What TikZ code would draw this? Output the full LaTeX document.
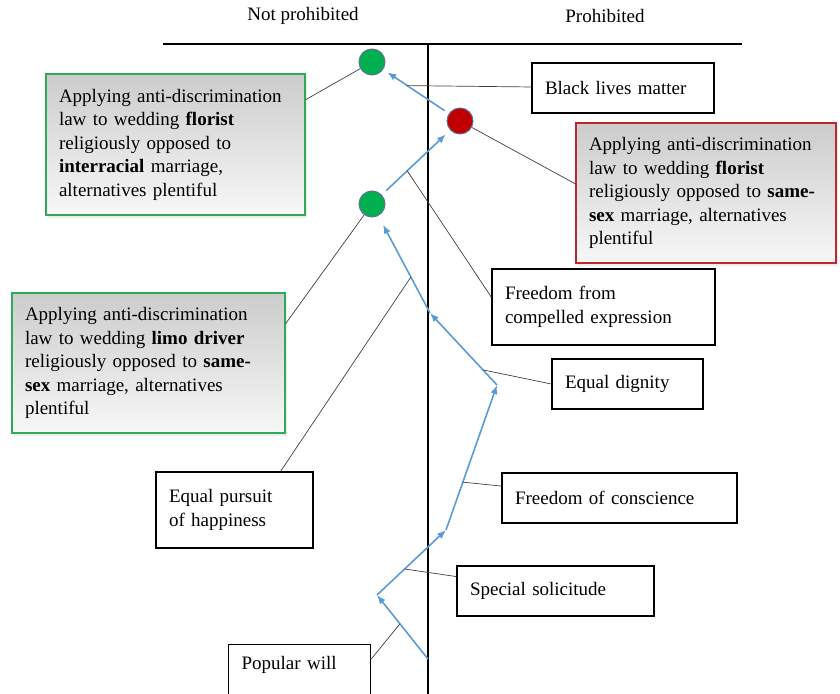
\documentclass[tikz,border=0pt]{standalone}
\usepackage{fontspec}
\setmainfont{Liberation Serif}
\usetikzlibrary{calc,shadows,arrows.meta}

\definecolor{flowblue}{RGB}{91,155,213}
\definecolor{okgreen}{RGB}{0,176,80}
\definecolor{nogred}{RGB}{192,0,0}
\definecolor{boxgreen}{RGB}{46,170,90}
\definecolor{boxred}{RGB}{190,40,45}
\definecolor{ringgrey}{RGB}{95,115,145}

\tikzset{
  flow/.style={-{Latex[length=9pt,width=7pt]}, flowblue, line width=1.6pt},
  link/.style={black!75, line width=.7pt},
  lbl/.style={draw, line width=1.3pt, rectangle, align=left, inner xsep=13pt,
    font=\fontsize{19}{23.5}\selectfont},
  case/.style={lbl, top color=gray!40, bottom color=gray!6,
    drop shadow={opacity=.15, shadow xshift=2pt, shadow yshift=-3pt}},
  dot/.style={circle, draw=ringgrey, line width=1pt, minimum size=26pt, inner sep=0pt}
}

\begin{document}
\begin{tikzpicture}[x=1pt,y=-1pt]
  \useasboundingbox (0,0) rectangle (840,693);
  \clip (0,0) rectangle (840,693);

  % headings and axes
  \node[font=\fontsize{19}{20}\selectfont] (hNot) at (303,16) {Not prohibited};
  \node[font=\fontsize{19}{20}\selectfont] (hPro) at (605,16) {Prohibited};
  \draw[line width=2.4pt] (163,44) -- (742,44);
  \draw[line width=2.4pt] (428,44) -- (428,700);

  % cases
  \node[case, draw=boxgreen, text width=233pt, minimum height=141pt] (g1) at (175.5,144.5)
    {Applying anti-discrimination\\ law to wedding \textbf{florist}\\ religiously opposed to\\
     \textbf{interracial} marriage,\\ alternatives plentiful};
  \node[case, draw=boxred, text width=234pt, minimum height=140pt] (r1) at (706,193)
    {Applying anti-discrimination\\ law to wedding \textbf{florist}\\ religiously opposed to \textbf{same-}\\
     \textbf{sex} marriage, alternatives\\ plentiful};
  \node[case, draw=boxgreen, text width=247pt, minimum height=140pt] (g2) at (148.5,363)
    {Applying anti-discrimination\\ law to wedding \textbf{limo driver}\\ religiously opposed to \textbf{same-}\\
     \textbf{sex} marriage, alternatives\\ plentiful};

  \node[dot, fill=okgreen] (gTop) at (372,62) {};
  \node[dot, fill=nogred] (rMid) at (460,121) {};
  \node[dot, fill=okgreen] (gMid) at (372,204) {};

  % values
  \node[lbl, text width=156pt, minimum height=50pt] (blm) at (623,88) {Black lives matter};
  \node[lbl, text width=197pt, minimum height=76pt] (ffce) at (603.5,307) {Freedom from\\ compelled expression};
  \node[lbl, text width=125pt, minimum height=50pt] (ed) at (627.5,384) {Equal dignity};
  \node[lbl, text width=131pt, minimum height=76pt] (epoh) at (234.5,510) {Equal pursuit\\ of happiness};
  \node[lbl, text width=209pt, minimum height=50pt] (foc) at (619.5,498) {Freedom of conscience};
  \node[lbl, text width=171pt, minimum height=50pt] (ss) at (555.5,591) {Special solicitude};
  \node[lbl, anchor=north west, text width=116pt, inner ysep=12pt, text depth=50pt] (pw) at (228,644) {Popular will};

  % path of the argument
  \coordinate (p0) at (428,659);
  \coordinate (p1) at (377,595);
  \coordinate (p2) at (446,530);
  \coordinate (p3) at (497,385);
  \coordinate (p4) at (430,313);

  \foreach \from/\to in {p0/p1, p1/p2, p2/p3, p3/p4}
    \draw[flow] (\from) -- (\to);
  \draw[flow, shorten >=10pt] (p4) -- (gMid);
  \draw[flow, shorten <=6pt, shorten >=6pt] (gMid) -- (rMid);
  \draw[flow, shorten <=5pt, shorten >=5pt] (rMid) -- (gTop);

  \coordinate (cPw) at ($(p0)!.55!(p1)$);
  \coordinate (cSs) at ($(p1)!.4!(p2)$);
  \coordinate (cFoc) at ($(p2)!.33!(p3)$);
  \coordinate (cEd) at ($(p3)!.21!(p4)$);
  \coordinate (cEp) at ($(p4)!.33!(gMid)$);
  \coordinate (cFfce) at ($(gMid)!.4!(rMid)$);
  \coordinate (cBlm) at ($(rMid)!.6!(gTop)$);
  \coordinate (pwTop) at ([yshift=-15pt]pw.north east);

  \foreach \from/\to in {g1.19/gTop, r1.176/rMid, g2.16/gMid, blm/cBlm, ffce.175/cFfce,
      ed.west/cEd, epoh.40/cEp, foc/cFoc, ss/cSs, pwTop/cPw}
    \draw[link] (\from) -- (\to);
\end{tikzpicture}
\end{document}
